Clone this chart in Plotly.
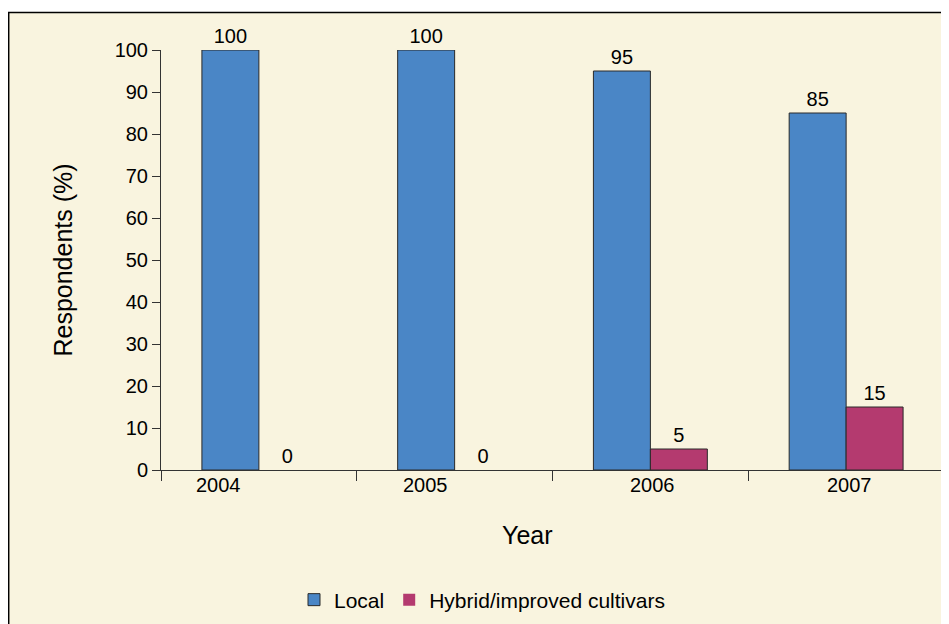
import plotly.graph_objects as go

# ---- data ----
years = ["2004", "2005", "2006", "2007"]
local = [100, 100, 95, 85]
hybrid = [0, 0, 5, 15]
series_names = ["Local", "Hybrid/improved cultivars"]
y_ticks = [0, 10, 20, 30, 40, 50, 60, 70, 80, 90, 100]

# ---- style / layout constants (figure pixel coords; page has 8px body margin) ----
OFF = 8
W, H = 941, 616
L, R, T, B = 153, 5, 42, 153
PW, PH = W - L - R, H - T - B
CREAM = "#F9F4DF"
BLUE = "#4A86C6"
MAGENTA = "#B43A6F"
EDGE = "#2a2a2a"
FONT = "Liberation Sans, Arial, sans-serif"
label_shift = [-40, -29, 2, 3]  # horizontal offsets of year labels (px)


def px_x(px):  # page pixel -> paper x
    return (px - OFF - L) / PW


def px_y(py):  # page pixel -> paper y
    return (H - B - (py - OFF)) / PH


def edge_widths(vals):
    return [1 if v > 0 else 0 for v in vals]


fig = go.Figure()
fig.add_trace(go.Bar(
    x=years, y=local, name=series_names[0],
    marker=dict(color=BLUE, line=dict(color=EDGE, width=edge_widths(local))),
    text=[str(v) for v in local], textposition="outside",
    textfont=dict(size=20, color="black", family=FONT), cliponaxis=False,
))
fig.add_trace(go.Bar(
    x=years, y=hybrid, name=series_names[1],
    marker=dict(color=MAGENTA, line=dict(color=EDGE, width=edge_widths(hybrid))),
    text=[str(v) for v in hybrid], textposition="outside",
    textfont=dict(size=20, color="black", family=FONT), cliponaxis=False,
))

annotations = []
for i, (yr, sh) in enumerate(zip(years, label_shift)):
    annotations.append(dict(
        x=i, y=0, xref="x", yref="paper", text=yr, showarrow=False,
        xanchor="center", yanchor="middle", xshift=sh, yshift=-15,
        font=dict(size=20, color="black", family=FONT),
    ))
annotations.append(dict(
    x=px_x(527), y=px_y(536), xref="paper", yref="paper", text="Year",
    showarrow=False, xanchor="center", yanchor="middle",
    font=dict(size=25, color="black", family=FONT),
))

shapes = [
    # white strip above the framed panel
    dict(type="rect", xref="paper", yref="paper",
         x0=px_x(0), x1=px_x(W + 20), y0=px_y(0), y1=px_y(12),
         fillcolor="white", line=dict(width=0), layer="below"),
    # top border line
    dict(type="line", xref="paper", yref="paper",
         x0=px_x(8), x1=px_x(W + 20), y0=px_y(12.5), y1=px_y(12.5),
         line=dict(color="black", width=1.5), layer="above"),
    # left border line
    dict(type="line", xref="paper", yref="paper",
         x0=px_x(8.7), x1=px_x(8.7), y0=px_y(12), y1=px_y(H + 20),
         line=dict(color="black", width=1.5), layer="above"),
]

fig.update_layout(
    width=W, height=H,
    margin=dict(l=L, r=R, t=T, b=B),
    paper_bgcolor=CREAM,
    plot_bgcolor="rgba(0,0,0,0)",
    barmode="group", bargap=0.418, bargroupgap=0,
    font=dict(family=FONT, size=20, color="black"),
    showlegend=True,
    legend=dict(orientation="h", x=px_x(482), y=px_y(600),
                xanchor="center", yanchor="middle",
                font=dict(size=21, family=FONT, color="black"),
                bgcolor="rgba(0,0,0,0)", itemwidth=30),
    annotations=annotations,
    shapes=shapes,
    xaxis=dict(type="category", showline=True, linecolor="#333", linewidth=1,
               ticks="outside", ticklen=10, tickcolor="#333", tickson="boundaries",
               showticklabels=False, showgrid=False, zeroline=False),
    yaxis=dict(range=[0, 100], tickvals=y_ticks, showline=True, linecolor="#333",
               linewidth=1, ticks="outside", ticklen=8, tickcolor="#333",
               showgrid=False, zeroline=False,
               tickfont=dict(size=20, family=FONT, color="black"),
               title=dict(text="Respondents (%)", standoff=34,
                          font=dict(size=25, family=FONT, color="black"))),
)

fig.write_html("out.html")
